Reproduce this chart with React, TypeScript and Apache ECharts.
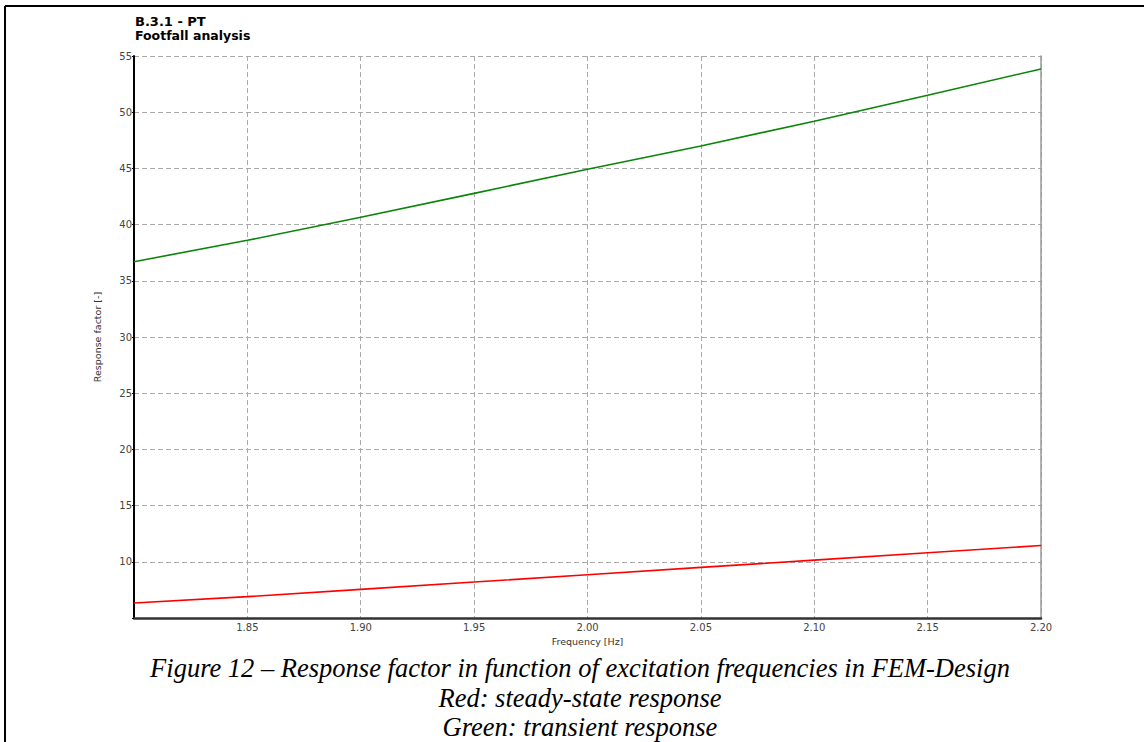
import React, { useEffect, useRef } from "react";
import * as echarts from "echarts";

const frequencies = [1.8, 1.85, 1.9, 1.95, 2.0, 2.05, 2.1, 2.15, 2.2];
const steadyState = [6.33, 6.9, 7.55, 8.2, 8.85, 9.5, 10.15, 10.8, 11.45];
const transient = [36.7, 38.6, 40.65, 42.78, 44.92, 47.0, 49.2, 51.5, 53.85];

const titleLines = ["B.3.1 - PT", "Footfall analysis"];
const captionLines = [
  "Figure 12 – Response factor in function of excitation frequencies in FEM-Design",
  "Red: steady-state response",
  "Green: transient response",
];

export default function App() {
  const ref = useRef<HTMLDivElement>(null);

  useEffect(() => {
    if (!ref.current) return;
    const chart = echarts.init(ref.current, undefined, { renderer: "svg" });
    const labelFont = "DejaVu Sans";
    chart.setOption({
      animation: false,
      backgroundColor: "#fff",
      grid: { left: 134, top: 56, right: 103, bottom: 124 },
      xAxis: {
        type: "value",
        min: 1.8,
        max: 2.2,
        interval: 0.05,
        name: "Frequency [Hz]",
        nameLocation: "middle",
        nameGap: 15,
        nameTextStyle: { fontFamily: labelFont, fontSize: 9.5, color: "#333" },
        axisLine: { show: true, onZero: false, lineStyle: { color: "#333", width: 2.5 } },
        axisTick: { show: false },
        axisLabel: {
          fontFamily: labelFont,
          fontSize: 10,
          color: "#444",
          margin: 4,
          formatter: (v: number) => (Math.abs(v - 1.8) < 1e-6 ? "" : v.toFixed(2)),
        },
        splitLine: { show: true, lineStyle: { color: "#aaa", type: [5, 3], width: 1 } },
      },
      yAxis: [
        {
          type: "value",
          min: 5,
          max: 55,
          interval: 5,
          name: "Response factor [-]",
          nameLocation: "middle",
          nameGap: 32,
          nameRotate: 90,
          nameTextStyle: { fontFamily: labelFont, fontSize: 9.5, color: "#333" },
          axisLine: { show: true, onZero: false, lineStyle: { color: "#000", width: 2 } },
          axisTick: { show: true, length: 2, lineStyle: { color: "#000" } },
          axisLabel: {
            fontFamily: labelFont,
            fontSize: 10,
            color: "#444",
            margin: 2,
            formatter: (v: number) => (v === 5 ? "" : String(v)),
          },
          splitLine: { show: true, lineStyle: { color: "#aaa", type: [5, 3], width: 1 } },
        },
        {
          type: "value",
          min: 5,
          max: 55,
          interval: 5,
          position: "right",
          axisLine: { show: true, onZero: false, lineStyle: { color: "#999", width: 1.5 } },
          axisTick: { show: false },
          axisLabel: { show: false },
          splitLine: { show: false },
        },
      ],
      series: [
        {
          name: "Steady-state",
          type: "line",
          data: frequencies.map((f, i) => [f, steadyState[i]]),
          showSymbol: false,
          symbol: "none",
          lineStyle: { color: "#ff0000", width: 1.6 },
          z: 3,
        },
        {
          name: "Transient",
          type: "line",
          data: frequencies.map((f, i) => [f, transient[i]]),
          showSymbol: false,
          symbol: "none",
          lineStyle: { color: "#0a850a", width: 1.6 },
          z: 3,
        },
      ],
      graphic: [
        { type: "line", shape: { x1: 5, y1: 6, x2: 1144, y2: 6 }, style: { stroke: "#000", lineWidth: 2 } },
        { type: "line", shape: { x1: 5, y1: 6, x2: 5, y2: 742 }, style: { stroke: "#000", lineWidth: 2 } },
        {
          type: "text",
          left: 135,
          top: 15,
          style: { text: titleLines[0], fontFamily: labelFont, fontSize: 13, fontWeight: "bold", fill: "#000" },
        },
        {
          type: "text",
          left: 135,
          top: 29,
          style: { text: titleLines[1], fontFamily: labelFont, fontSize: 12.5, fontWeight: "bold", fill: "#000" },
        },
        ...captionLines.map((t, i) => ({
          type: "text",
          x: 580,
          y: 668 + i * 29.5,
          style: {
            text: t,
            fontFamily: "Liberation Serif",
            fontStyle: "italic",
            fontSize: 26.5,
            fill: "#000",
            textAlign: "center",
            textVerticalAlign: "middle",
          },
        })),
      ],
    });
    return () => chart.dispose();
  }, []);

  return (
    <div
      ref={ref}
      style={{ position: "fixed", left: 0, top: 0, width: 1144, height: 742, background: "#fff" }}
    />
  );
}
